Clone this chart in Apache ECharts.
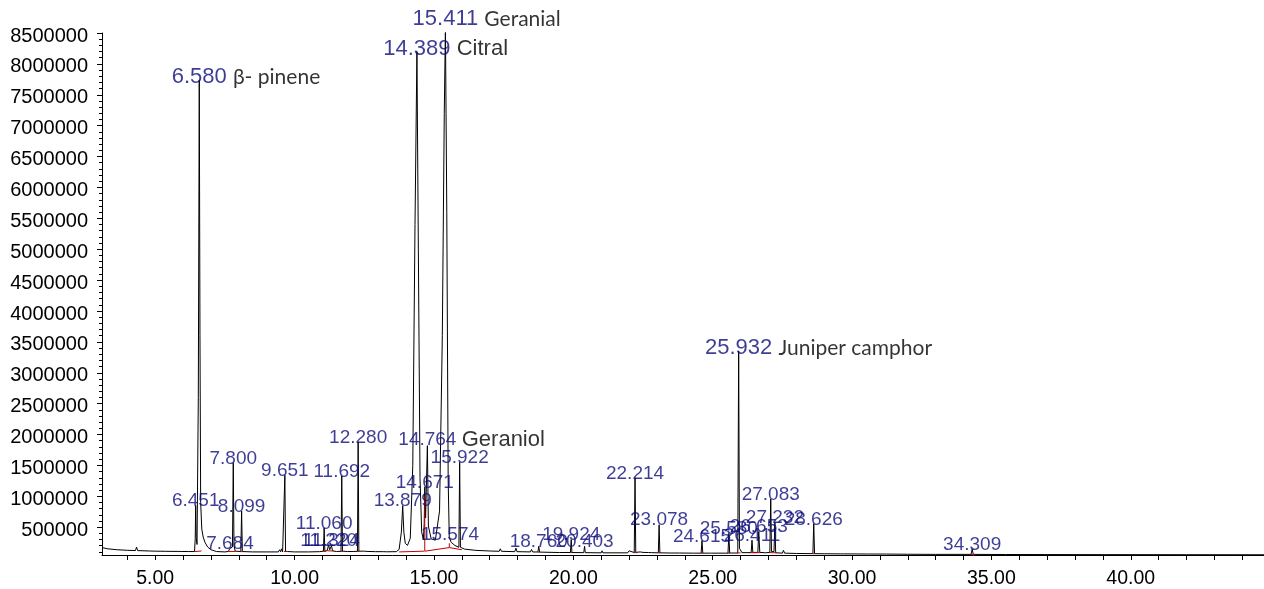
<!DOCTYPE html>
<html><head><meta charset="utf-8">
<script src="https://cdn.jsdelivr.net/npm/echarts@6/dist/echarts.min.js"></script>
<style>html,body{margin:0;padding:0;background:#fff}#c{width:1264px;height:589px}</style>
</head><body><div id="c"></div>
<script>
// ---------- DATA ----------
// Chromatogram trace: [retention time (min), abundance (thousands)]
const chromatogram = [
[3.09,170],[3.3,150],[3.6,136],[4.0,126],[4.29,122],[4.33,178],[4.37,121],[4.8,115],[5.0,112],[5.38,110],[5.42,138],[5.46,109],[5.85,108],[5.89,132],[5.93,107],[6.2,106],[6.41,106],[6.435,320],[6.451,850],[6.47,330],[6.50,220],[6.545,2600],[6.580,7740],[6.605,3600],[6.63,900],[6.67,470],[6.72,340],[6.79,250],[6.88,180],[7.0,135],[7.2,106],[7.5,100],[7.63,108],[7.665,150],[7.684,160],[7.71,125],[7.77,180],[7.800,1540],[7.825,200],[7.87,112],[8.07,106],[8.099,760],[8.125,106],[8.5,100],[9.0,100],[9.42,100],[9.46,135],[9.50,102],[9.53,150],[9.57,100],[9.625,108],[9.651,1340],[9.675,112],[9.75,106],[10.0,100],[10.5,100],[10.9,104],[11.035,112],[11.060,490],[11.085,112],[11.17,120],[11.220,215],[11.26,135],[11.29,130],[11.324,200],[11.36,118],[11.5,106],[11.665,110],[11.692,1330],[11.718,112],[11.9,106],[12.1,106],[12.255,110],[12.280,1880],[12.305,112],[12.5,112],[12.55,140],[12.6,108],[12.9,104],[13.2,104],[13.25,125],[13.3,102],[13.65,104],[13.75,140],[13.83,420],[13.879,850],[13.92,420],[13.97,240],[14.05,205],[14.15,320],[14.24,1500],[14.32,5400],[14.389,8200],[14.44,5000],[14.50,1300],[14.56,420],[14.62,300],[14.65,560],[14.671,1150],[14.70,650],[14.735,620],[14.764,1820],[14.80,520],[14.9,310],[15.05,290],[15.2,760],[15.30,3600],[15.37,7200],[15.411,8600],[15.46,5600],[15.51,1250],[15.55,330],[15.574,300],[15.62,255],[15.75,205],[15.895,175],[15.922,1550],[15.95,175],[16.1,145],[16.5,125],[17.0,115],[17.34,110],[17.38,150],[17.42,110],[17.9,104],[17.94,160],[17.98,104],[18.46,100],[18.5,140],[18.54,99],[18.73,99],[18.760,190],[18.79,97],[19.5,90],[19.895,90],[19.924,300],[19.95,90],[20.375,88],[20.403,190],[20.43,88],[21.0,85],[21.03,118],[21.06,85],[21.95,85],[22.0,118],[22.05,86],[22.185,90],[22.214,1300],[22.24,92],[22.4,100],[22.45,128],[22.5,92],[22.7,90],[22.75,118],[22.8,88],[23.05,85],[23.078,540],[23.105,85],[23.5,82],[23.8,82],[23.83,100],[23.86,81],[24.3,80],[24.585,80],[24.615,280],[24.645,80],[24.88,80],[24.92,100],[24.96,80],[25.55,80],[25.580,400],[25.61,82],[25.90,82],[25.932,3350],[25.96,160],[26.05,88],[26.38,88],[26.411,290],[26.44,92],[26.62,92],[26.653,430],[26.69,92],[26.9,86],[27.05,92],[27.083,955],[27.11,105],[27.2,105],[27.232,580],[27.26,86],[27.5,80],[27.54,125],[27.58,80],[28.0,75],[28.595,72],[28.626,555],[28.655,72],[29.0,70],[29.6,68],[29.65,85],[29.7,68],[30.5,66],[30.55,80],[30.6,66],[31.15,65],[31.19,95],[31.23,65],[32.0,62],[33.0,60],[34.27,60],[34.309,145],[34.35,60],[35.5,58],[37.0,57],[39.0,56],[39.05,68],[39.1,56],[42.0,55],[44.78,54]
];
// Integration baselines (red): segments [[t1,v1],[t2,v2]] in thousands
const integrationSegments = [
[[6.42,106],[6.66,115]],[[7.64,105],[7.88,108]],[[8.06,104],[8.14,104]],[[9.62,106],[9.74,106]],
[[11.0,110],[11.12,110]],[[11.18,118],[11.40,115]],[[11.65,108],[11.74,108]],[[12.24,108],[12.32,108]],
[[13.75,100],[14.66,112]],[[14.67,112],[14.67,1000]],[[14.68,112],[15.55,170]],[[15.55,170],[15.55,240]],[[15.55,170],[16.0,135]],
[[18.73,96],[18.80,96]],[[19.89,88],[19.96,88]],[[22.18,88],[22.25,88]],[[23.05,84],[23.11,84]],[[24.58,79],[24.65,79]],
[[25.54,80],[25.62,80]],[[25.88,82],[26.0,84]],[[26.37,86],[26.70,88]],[[27.04,88],[27.28,86]],[[28.59,71],[28.66,71]],[[34.25,59],[34.38,59]]
];
// Peak annotations
const peakTimes  = [6.451,6.580,7.684,7.800,8.099,9.651,11.060,11.220,11.324,11.692,12.280,13.879,14.389,14.671,14.764,15.411,15.574,15.922,18.760,19.924,20.403,22.214,23.078,24.615,25.580,25.932,26.411,26.653,27.083,27.232,28.626,34.309];
const peakLabelK = [850,7740,160,1540,760,1340,490,215,200,1330,1880,850,8200,1150,1820,8680,300,1550,190,300,190,1300,540,280,400,3350,290,430,955,580,555,145];
const peakTexts  = ["6.451","6.580","7.684","7.800","8.099","9.651","11.060","11.220","11.324","11.692","12.280","13.879","14.389","14.671","14.764","15.411","15.574","15.922","18.760","19.924","20.403","22.214","23.078","24.615","25.580","25.932","26.411","26.653","27.083","27.232","28.626","34.309"];
const peakNames  = ["","β- pinene","","","","","","","","","","","Citral","","Geraniol","Geranial","","","","","","","","","","Juniper camphor","","","","","",""];
// Axis ticks
const xLabelTicks = [5,10,15,20,25,30,35,40];
const xMinorTicks = [4,5,6,7,8,9,10,11,12,13,14,15,16,17,18,19,20,21,22,23,24,25,26,27,28,29,30,31,32,33,34,35,36,37,38,39,40,41,42,43,44];
const yLabelTicks = [500000,1000000,1500000,2000000,2500000,3000000,3500000,4000000,4500000,5000000,5500000,6000000,6500000,7000000,7500000,8000000,8500000];
const yMinorTicks = [100000,200000,300000,400000,500000,600000,700000,800000,900000,1000000,1100000,1200000,1300000,1400000,1500000,1600000,1700000,1800000,1900000,2000000,2100000,2200000,2300000,2400000,2500000,2600000,2700000,2800000,2900000,3000000,3100000,3200000,3300000,3400000,3500000,3600000,3700000,3800000,3900000,4000000,4100000,4200000,4300000,4400000,4500000,4600000,4700000,4800000,4900000,5000000,5100000,5200000,5300000,5400000,5500000,5600000,5700000,5800000,5900000,6000000,6100000,6200000,6300000,6400000,6500000,6600000,6700000,6800000,6900000,7000000,7100000,7200000,7300000,7400000,7500000,7600000,7700000,7800000,7900000,8000000,8100000,8200000,8300000,8400000,8500000];

// ---------- CHART ----------
const NUM_FONT = '"Liberation Sans", Arial, sans-serif';
const CAL_FONT = 'Lato, sans-serif';
const NAVY = '#0c0c7a';
const bigTexts = new Set(['6.580','14.389','15.411','25.932']);
const arialNames = new Set(['Citral','Geraniol']);
const ctx = document.createElement('canvas').getContext('2d');
function tw(text, size){ ctx.font = size + 'px "Liberation Sans"'; return ctx.measureText(text).width; }

const traceData = chromatogram.map(p => [p[0], p[1]*1000]);
const redData = [];
integrationSegments.forEach(s => { redData.push([s[0][0], s[0][1]*1000], [s[1][0], s[1][1]*1000], null); });

const labelData = peakTimes.map((t, i) => {
  const txt = peakTexts[i], name = peakNames[i];
  const big = bigTexts.has(txt);
  const size = big ? 22 : 19;
  const dist = big ? -8 : -5;
  const item = { value: [t, peakLabelK[i]*1000] };
  if (name) {
    const isArial = arialNames.has(name);
    item.label = {
      show: true, position: 'top', distance: dist, align: 'left',
      offset: [-tw(txt, size)/2, 0],
      fontSize: size, fontFamily: NUM_FONT, color: NAVY,
      formatter: '{n|' + txt + '} {m|' + name + '}',
      rich: {
        n: { fontSize: size, fontFamily: NUM_FONT, color: NAVY },
        m: { fontSize: isArial ? 22 : 21, fontFamily: isArial ? NUM_FONT : CAL_FONT, color: '#000' }
      }
    };
  } else {
    item.label = { show: true, position: 'top', distance: dist, formatter: txt, fontSize: size, fontFamily: NUM_FONT, color: NAVY };
  }
  return item;
});

const chart = echarts.init(document.getElementById('c'), null, { renderer: 'canvas' });
chart.setOption({
  animation: false,
  backgroundColor: '#fff',
  grid: { left: 102, right: 0, top: 33, bottom: 31, containLabel: false },
  xAxis: {
    type: 'value', min: 3.09, max: 44.78,
    axisLine: { show: true, onZero: false, lineStyle: { color: '#000', width: 1 } },
    axisTick: { show: true, length: 5, customValues: xMinorTicks, lineStyle: { color: '#000' } },
    axisLabel: { customValues: xLabelTicks, formatter: v => Number(v).toFixed(2), fontSize: 19.5, fontFamily: NUM_FONT, color: '#000', margin: 14 },
    splitLine: { show: false }
  },
  yAxis: [{
    type: 'value', min: 50000, max: 8500000, position: 'left',
    axisLine: { show: true, lineStyle: { color: '#000', width: 1 } },
    axisTick: { show: true, length: 5, customValues: yLabelTicks, lineStyle: { color: '#000' } },
    axisLabel: {
      customValues: yLabelTicks, formatter: v => '{a|' + String(Math.round(v)) + '}',
      fontSize: 20, fontFamily: NUM_FONT, color: '#000', margin: 14,
      rich: { a: { fontSize: 20, fontFamily: NUM_FONT, color: '#000', padding: [6, 0, 0, 0] } }
    },
    splitLine: { show: false }
  }, {
    type: 'value', min: 50000, max: 8500000, position: 'left', offset: 0,
    axisLine: { show: false },
    axisTick: { show: true, length: 3, customValues: yMinorTicks, lineStyle: { color: '#000' } },
    axisLabel: { show: false },
    splitLine: { show: false }
  }],
  series: [{
    type: 'line', data: traceData, showSymbol: false, symbol: 'none',
    lineStyle: { color: '#000', width: 1 }, z: 2, silent: true
  }, {
    type: 'line', data: redData, showSymbol: false, symbol: 'none', connectNulls: false,
    lineStyle: { color: '#c00000', width: 1 }, z: 3, silent: true
  }, {
    type: 'scatter', data: labelData, symbolSize: 0, clip: false, z: 5, silent: true
  }]
});
</script></body></html>
